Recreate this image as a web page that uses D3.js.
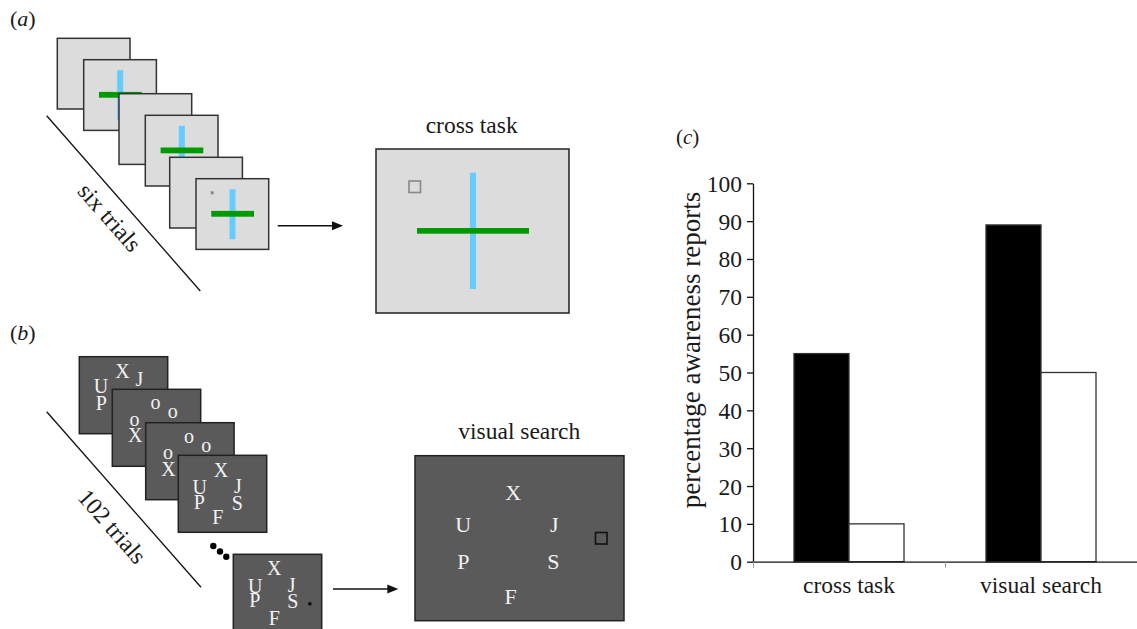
<!DOCTYPE html>
<html>
<head>
<meta charset="utf-8">
<script src="https://cdn.jsdelivr.net/npm/d3@7"></script>
<style>
  html, body { margin: 0; padding: 0; background: #fff; }
  svg { display: block; }
  text { font-family: "Liberation Serif", "Times New Roman", serif; fill: #1a1a1a; }
</style>
</head>
<body>
<svg id="fig" width="1137" height="629"></svg>
<script>
// ---------- data for panel (c) ----------
const categories = ["cross task", "visual search"];
const seriesNames = ["aware", "unaware"];
const blackValues = [55, 89];
const whiteValues = [10, 50];
const yTickValues = [0, 10, 20, 30, 40, 50, 60, 70, 80, 90, 100];
const yAxisTitle = "percentage awareness reports";

// ---------- content for panels (a) and (b) ----------
const panelLabels = ["a", "b", "c"];
const crossTitle = "cross task";
const searchTitle = "visual search";
const sixTrialsLabel = "six trials";
const trialsLabel102 = "102 trials";
const crossTrialHasCross = [false, true, false, true, false, true];
const letterLayoutA = ["X", "J", "U", "P", "S", "F"];
const letterLayoutO = ["o", "o", "o", "X"];
const bigLetters = ["X", "U", "J", "P", "S", "F"];

const svg = d3.select("#fig");

// ====== panel labels ======
function panelLabel(x, y, ch, size) {
  const t = svg.append("text").attr("x", x).attr("y", y).style("font-size", size + "px");
  t.append("tspan").text("(");
  t.append("tspan").style("font-style", "italic").text(ch);
  t.append("tspan").text(")");
}
panelLabel(10, 26, panelLabels[0], 22);
panelLabel(10, 339.5, panelLabels[1], 22);
panelLabel(676, 143.5, panelLabels[2], 21);

function arrow(x1, x2, y) {
  svg.append("line").attr("x1", x1).attr("x2", x2 - 9).attr("y1", y).attr("y2", y)
    .attr("stroke", "#111").attr("stroke-width", 1.4);
  svg.append("path").attr("d", `M${x2},${y} L${x2 - 11},${y - 4.5} L${x2 - 11},${y + 4.5} Z`)
    .attr("fill", "#111");
}
function rotatedLabel(cx, cy, angle, txt, size) {
  svg.append("text")
    .attr("transform", `translate(${cx},${cy}) rotate(${angle})`)
    .attr("text-anchor", "middle").attr("dy", "0.3em")
    .style("font-size", size + "px").text(txt);
}

// ====== panel (a) ======
const aSquares = [[57.3, 38.3], [83.7, 59.7], [119, 93.7], [145.3, 115.3], [169.7, 157.3], [196, 178.7]];
const gA = svg.append("g");
aSquares.forEach((p, i) => {
  gA.append("rect").attr("x", p[0]).attr("y", p[1]).attr("width", 72.7).attr("height", 70.7)
    .attr("fill", "#dcdcdc").attr("stroke", "#333").attr("stroke-width", 1.5);
  if (crossTrialHasCross[i]) {
    gA.append("rect").attr("x", p[0] + 33.5).attr("y", p[1] + 10.5).attr("width", 6).attr("height", 50)
      .attr("fill", "#66ccff");
    gA.append("rect").attr("x", p[0] + 15.3).attr("y", p[1] + 32.2).attr("width", 42.7).attr("height", 5.8)
      .attr("fill", "#009900");
  }
  if (i === aSquares.length - 1) {
    gA.append("rect").attr("x", p[0] + 14.7).attr("y", p[1] + 12.6).attr("width", 3).attr("height", 3)
      .attr("fill", "#888");
  }
});
svg.append("line").attr("x1", 46.7).attr("y1", 115.7).attr("x2", 200.3).attr("y2", 291)
  .attr("stroke", "#111").attr("stroke-width", 1.3);
rotatedLabel(109, 218, 48.7, sixTrialsLabel, 24);
arrow(277.7, 343, 225.7);

svg.append("text").attr("x", 471.7).attr("y", 132.7).attr("text-anchor", "middle")
  .style("font-size", "23.5px").text(crossTitle);
svg.append("rect").attr("x", 376).attr("y", 149).attr("width", 193).attr("height", 164)
  .attr("fill", "#dcdcdc").attr("stroke", "#222").attr("stroke-width", 1.5);
svg.append("rect").attr("x", 470).attr("y", 172.7).attr("width", 6).attr("height", 116.3).attr("fill", "#66ccff");
svg.append("rect").attr("x", 417).attr("y", 228).attr("width", 112).attr("height", 5.7).attr("fill", "#009900");
svg.append("rect").attr("x", 409).attr("y", 181).attr("width", 11.5).attr("height", 11.5)
  .attr("fill", "none").attr("stroke", "#888").attr("stroke-width", 1.6);

// ====== panel (b) ======
const bSquares = [[79.3, 356.7], [112.3, 389.3], [145.7, 422.7], [178.3, 455.3], [233.3, 554.3]];
const posA1 = [[43.2, 21.3], [60, 29.3], [21.7, 36.6], [22, 53.3], [59, 54.7], [39.5, 69]];
const posO = [[43.2, 20], [60.5, 29], [22.2, 36.7], [22.9, 53]];
const posA4 = [[42.7, 21.4], [59.5, 38], [21.4, 38.7], [20.9, 53.7], [59, 54.7], [39.5, 69]];
const posA5 = [[41, 20.7], [58.3, 37.3], [22, 39], [21.5, 52.3], [59.5, 54], [41, 70.7]];
const bLayouts = [
  [letterLayoutA, posA1], [letterLayoutO, posO], [letterLayoutO, posO], [letterLayoutA, posA4], [letterLayoutA, posA5]
];
bSquares.forEach((p, i) => {
  svg.append("rect").attr("x", p[0]).attr("y", p[1]).attr("width", 88.4).attr("height", 77)
    .attr("fill", "#5a5a5a").attr("stroke", "#222").attr("stroke-width", 1.5);
  const [letters, pos] = bLayouts[i];
  letters.forEach((ch, j) => {
    svg.append("text").attr("x", p[0] + pos[j][0]).attr("y", p[1] + pos[j][1])
      .attr("text-anchor", "middle").style("font-size", "20px").style("fill", "#f2f2f2").text(ch);
  });
  if (i === bSquares.length - 1) {
    svg.append("rect").attr("x", p[0] + 75).attr("y", p[1] + 48).attr("width", 3).attr("height", 3).attr("fill", "#000");
  }
});
[[213.3, 546], [220, 551.5], [226.3, 556.7]].forEach(d => {
  svg.append("circle").attr("cx", d[0]).attr("cy", d[1]).attr("r", 3.2).attr("fill", "#000");
});
svg.append("line").attr("x1", 46.7).attr("y1", 411.7).attr("x2", 201).attr("y2", 587.3)
  .attr("stroke", "#111").attr("stroke-width", 1.3);
rotatedLabel(111.5, 527, 48.7, trialsLabel102, 24);
arrow(333, 398.3, 589);

svg.append("text").attr("x", 519.3).attr("y", 439.3).attr("text-anchor", "middle")
  .style("font-size", "23.5px").text(searchTitle);
svg.append("rect").attr("x", 415).attr("y", 455.7).attr("width", 209).attr("height", 165)
  .attr("fill", "#5a5a5a").attr("stroke", "#222").attr("stroke-width", 1.5);
const bigPos = [[98.3, 44.3], [48.3, 76], [139.3, 76], [48.3, 113.6], [138.3, 113.6], [95.7, 148.3]];
bigLetters.forEach((ch, j) => {
  svg.append("text").attr("x", 415 + bigPos[j][0]).attr("y", 455.7 + bigPos[j][1])
    .attr("text-anchor", "middle").style("font-size", "22px").style("fill", "#f2f2f2").text(ch);
});
svg.append("rect").attr("x", 595.5).attr("y", 532.5).attr("width", 11.5).attr("height", 11.5)
  .attr("fill", "none").attr("stroke", "#111").attr("stroke-width", 1.6);

// ====== panel (c): bar chart ======
const x0 = 753, x1 = 1137, yBottom = 561.7, yTop = 183.3;
const x = d3.scaleBand().domain(categories).range([x0, x1]).paddingInner(0.427).paddingOuter(0.2135);
const xStep = d3.scaleBand().domain(categories).range([x0, x1]);
const xSub = d3.scaleBand().domain(seriesNames).range([0, x.bandwidth()]);
const y = d3.scaleLinear().domain([0, 100]).range([yBottom, yTop]);

const gC = svg.append("g");
categories.forEach((c, i) => {
  const vals = [blackValues[i], whiteValues[i]];
  seriesNames.forEach((s, k) => {
    gC.append("rect")
      .attr("x", x(c) + xSub(s)).attr("y", y(vals[k]))
      .attr("width", xSub.bandwidth()).attr("height", y(0) - y(vals[k]))
      .attr("fill", k === 0 ? "#000" : "#fff")
      .attr("stroke", "#333").attr("stroke-width", 1.3);
  });
});

const yAxis = svg.append("g").attr("transform", `translate(${x0},0)`)
  .call(d3.axisLeft(y).tickValues(yTickValues).tickSize(6).tickSizeOuter(0).tickPadding(5));
yAxis.attr("font-family", null);
yAxis.select(".domain").attr("stroke", "#111").attr("stroke-width", 1.3);
yAxis.selectAll(".tick line").attr("stroke", "#111").attr("stroke-width", 1.3);
yAxis.selectAll(".tick text").style("font-family", "'Liberation Serif', serif")
  .style("font-size", "23.5px").attr("fill", "#1a1a1a").attr("dy", "0.34em");

// x axis baseline with ticks at category boundaries
const xAxis = svg.append("g").attr("transform", `translate(0,${yBottom})`)
  .call(d3.axisBottom(d3.scaleLinear().domain([0, categories.length]).range([x0, x1]))
    .tickValues(d3.range(categories.length + 1)).tickSize(6).tickSizeOuter(0).tickFormat(""));
xAxis.select(".domain").attr("stroke", "#111").attr("stroke-width", 1.3);
xAxis.selectAll(".tick line").attr("stroke", "#999").attr("stroke-width", 1);
categories.forEach(c => {
  svg.append("text").attr("x", xStep(c) + xStep.bandwidth() / 2).attr("y", 593)
    .attr("text-anchor", "middle").style("font-size", "23.5px").text(c);
});

svg.append("text")
  .attr("transform", `translate(700,350) rotate(-90)`)
  .attr("text-anchor", "middle").style("font-size", "27px").text(yAxisTitle);
</script>
</body>
</html>
